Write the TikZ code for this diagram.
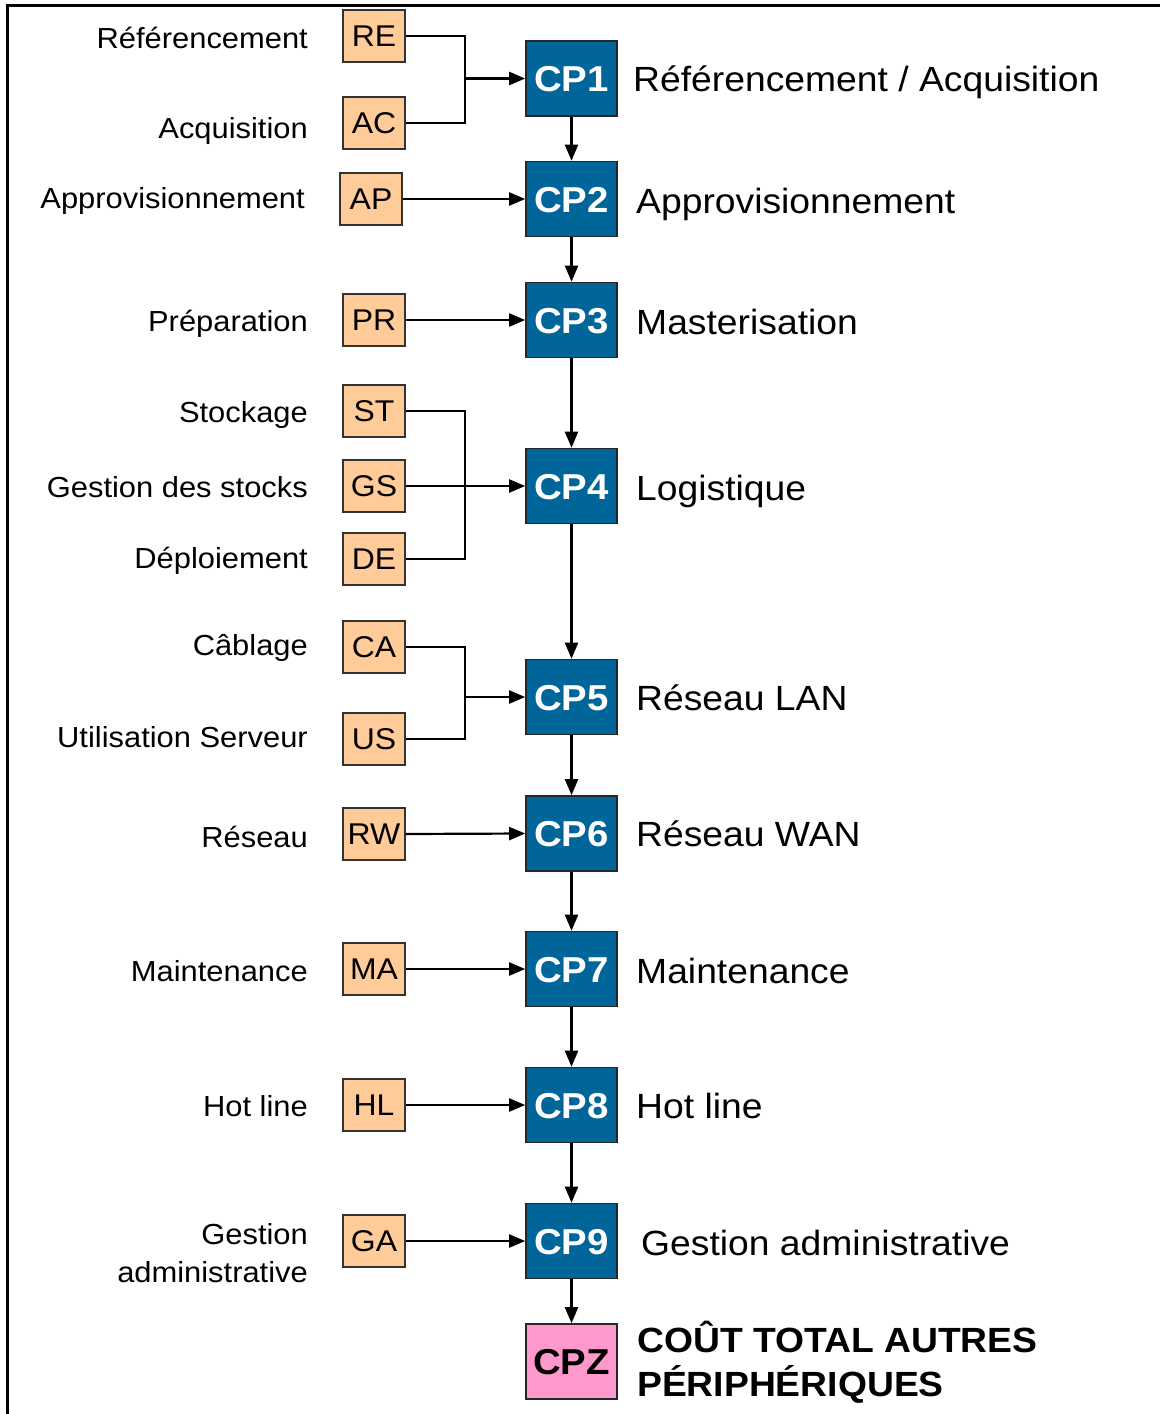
\documentclass[tikz,border=0pt]{standalone}
\usepackage{fontspec}
\setmainfont[FakeStretch=1.065]{Liberation Sans}
\usetikzlibrary{arrows.meta}
\definecolor{cpblue}{HTML}{006699}
\definecolor{codeor}{HTML}{FFCC99}
\definecolor{cppink}{HTML}{FF99CC}
\begin{document}
\begin{tikzpicture}[x=1pt,y=-1pt,
  codebox/.style={draw=black!80,line width=1.4pt,fill=codeor,minimum width=62pt,minimum height=52pt,inner sep=0pt,
    font=\fontsize{30}{34}\selectfont,text height=21.5pt,text depth=0pt},
  cpbox/.style={draw=black!85,line width=1.6pt,fill=cpblue,minimum width=91pt,minimum height=75pt,inner sep=0pt,
    text=white,font=\fontsize{36}{40}\selectfont\bfseries,text height=26pt,text depth=0pt},
  leftlab/.style={anchor=base east,inner sep=0pt,font=\fontsize{29}{34}\selectfont},
  rightlab/.style={anchor=base west,inner sep=0pt,font=\fontsize{35}{40}\selectfont},
  conn/.style={line width=2.2pt},
  arr/.style={line width=2.2pt,-{Triangle[length=16pt,width=13pt]}}
]
\useasboundingbox (0,0) rectangle (1160,1414);
\draw[line width=3pt] (1160,5) -- (7,5) -- (7,1414);

% CP boxes
\node[cpbox] (cp1) at (571.5,78.5) {CP1};
\node[cpbox] (cp2) at (571.5,199) {CP2};
\node[cpbox] (cp3) at (571.5,320) {CP3};
\node[cpbox] (cp4) at (571.5,486) {CP4};
\node[cpbox] (cp5) at (571.5,697) {CP5};
\node[cpbox] (cp6) at (571.5,833.5) {CP6};
\node[cpbox] (cp7) at (571.5,969) {CP7};
\node[cpbox] (cp8) at (571.5,1105) {CP8};
\node[cpbox] (cp9) at (571.5,1241) {CP9};
\node[cpbox,fill=cppink,text=black] (cpz) at (571.5,1361.5) {CPZ};

% code boxes
\node[codebox] (re) at (374,36) {RE};
\node[codebox] (ac) at (374,123) {AC};
\node[codebox] (ap) at (371,199) {AP};
\node[codebox] (pr) at (374,320) {PR};
\node[codebox] (st) at (374,411) {ST};
\node[codebox] (gs) at (374,486) {GS};
\node[codebox] (de) at (374,559) {DE};
\node[codebox] (ca) at (374,647) {CA};
\node[codebox] (us) at (374,739) {US};
\node[codebox] (rw) at (374,834) {RW};
\node[codebox] (ma) at (374,969) {MA};
\node[codebox] (hl) at (374,1105) {HL};
\node[codebox] (ga) at (374,1241) {GA};

% left labels
\node[leftlab] (lre) at (308,48) {Référencement};
\node[leftlab] (lac) at (308,138) {Acquisition};
\node[leftlab] (lap) at (305,208) {Approvisionnement};
\node[leftlab] (lpr) at (308,331) {Préparation};
\node[leftlab] (lst) at (308,422) {Stockage};
\node[leftlab] (lgs) at (308,497) {Gestion des stocks};
\node[leftlab] (lde) at (308,568) {Déploiement};
\node[leftlab] (lca) at (308,655) {Câblage};
\node[leftlab] (lus) at (308,747) {Utilisation Serveur};
\node[leftlab] (lrw) at (308,847) {Réseau};
\node[leftlab] (lma) at (308,981) {Maintenance};
\node[leftlab] (lhl) at (308,1116) {Hot line};
\node[leftlab] (lga1) at (308,1244) {Gestion};
\node[leftlab] (lga2) at (308,1282) {administrative};

% right labels
\node[rightlab] (r1) at (633,91) {Référencement / Acquisition};
\node[rightlab] (r2) at (636,213) {Approvisionnement};
\node[rightlab] (r3) at (636,334) {Masterisation};
\node[rightlab] (r4) at (636,500) {Logistique};
\node[rightlab] (r5) at (636,710) {Réseau LAN};
\node[rightlab] (r6) at (636,846) {Réseau WAN};
\node[rightlab] (r7) at (636,983) {Maintenance};
\node[rightlab] (r8) at (636,1118) {Hot line};
\node[rightlab] (r9) at (641,1255) {Gestion administrative};
\node[rightlab,font=\fontsize{35}{40}\selectfont\bfseries] (rz1) at (637,1352) {COÛT TOTAL AUTRES};
\node[rightlab,font=\fontsize{35}{40}\selectfont\bfseries] (rz2) at (637,1396) {PÉRIPHÉRIQUES};

% junctions
\coordinate (j1) at (465,78.5);
\coordinate (j4) at (465,486);
\coordinate (j5) at (465,697);

% connectors
\draw[conn] (re.east) -| (j1) |- (ac.east);
\draw[arr] (j1) -- (cp1.west);
\draw[arr] (ap.east) -- (cp2.west);
\draw[arr] (pr.east) -- (cp3.west);
\draw[conn] (st.east) -| (j4) |- (de.east);
\draw[arr] (gs.east) -- (cp4.west);
\draw[conn] (ca.east) -| (j5) |- (us.east);
\draw[arr] (j5) -- (cp5.west);
\draw[arr] (rw.east) -- (cp6.west);
\draw[arr] (ma.east) -- (cp7.west);
\draw[arr] (hl.east) -- (cp8.west);
\draw[arr] (ga.east) -- (cp9.west);

\draw[arr] (cp1.south) -- (cp2.north);
\draw[arr] (cp2.south) -- (cp3.north);
\draw[arr] (cp3.south) -- (cp4.north);
\draw[arr] (cp4.south) -- (cp5.north);
\draw[arr] (cp5.south) -- (cp6.north);
\draw[arr] (cp6.south) -- (cp7.north);
\draw[arr] (cp7.south) -- (cp8.north);
\draw[arr] (cp8.south) -- (cp9.north);
\draw[arr] (cp9.south) -- (cpz.north);
\end{tikzpicture}
\end{document}
